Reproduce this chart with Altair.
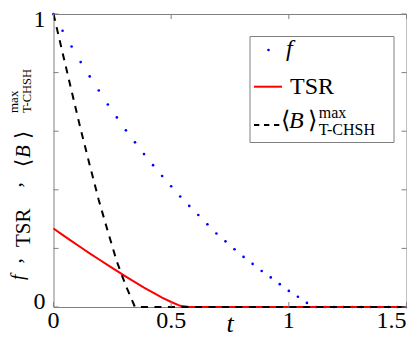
import altair as alt
import pandas as pd

# ---- data ----
t_f = [0, 0.0385, 0.0769, 0.1154, 0.1538, 0.1923, 0.2308, 0.2692, 0.3077, 0.3462,
       0.3846, 0.4231, 0.4615, 0.5, 0.5385, 0.5769, 0.6154, 0.6538, 0.6923, 0.7308,
       0.7692, 0.8077, 0.8462, 0.8846, 0.9231, 0.9615, 1.0, 1.0385, 1.0769, 1.1154,
       1.1538, 1.1923, 1.2308, 1.2692, 1.3077, 1.3462, 1.3846, 1.4231, 1.4615, 1.5]
f_vals = [1.0, 0.943, 0.889, 0.836, 0.787, 0.739, 0.691, 0.647, 0.603, 0.562,
          0.522, 0.484, 0.447, 0.412, 0.377, 0.345, 0.314, 0.282, 0.251, 0.224,
          0.197, 0.171, 0.147, 0.123, 0.101, 0.078, 0.055, 0.035, 0.014, 0,
          0, 0, 0, 0, 0, 0, 0, 0, 0, 0]

t_tsr = [0, 0.0385, 0.0769, 0.1154, 0.1538, 0.1923, 0.2308, 0.2692, 0.3077, 0.3462,
         0.3846, 0.4231, 0.4615, 0.5, 0.5385, 0.5769, 1.5]
tsr_vals = [0.268, 0.246, 0.225, 0.204, 0.183, 0.163, 0.143, 0.123, 0.104, 0.085,
            0.066, 0.049, 0.032, 0.017, 0.004, 0, 0]

t_b = [0, 0.0385, 0.0769, 0.1154, 0.1538, 0.1923, 0.2308, 0.2692, 0.3077, 0.3462, 1.5]
b_vals = [1.0, 0.868, 0.737, 0.607, 0.485, 0.365, 0.258, 0.155, 0.072, 0, 0]

x_ticks = [0, 0.5, 1, 1.5]
x_tick_labels = ["0", "0.5", "1", "1.5"]
y_ticks = [0, 0.2, 0.4, 0.6, 0.8, 1]
y_label_values = [0, 1]
y_tick_labels = ["0", "1"]

W, H = 353, 293
FONT = "Liberation Serif"
GRAY = "#808080"

xs = alt.Scale(domain=[0, 1.5], nice=False, zero=False)
ys = alt.Scale(domain=[0, 1], nice=False, zero=False)


def X(field):
    return alt.X(field, type="quantitative", scale=xs, axis=None)


def Y(field):
    return alt.Y(field, type="quantitative", scale=ys, axis=None)


df_f = pd.DataFrame({"t": t_f, "v": f_vals})
df_tsr = pd.DataFrame({"t": t_tsr, "v": tsr_vals})
df_b = pd.DataFrame({"t": t_b, "v": b_vals})

dots = alt.Chart(df_f).mark_circle(size=7, color="#0000ff", opacity=1).encode(x=X("t"), y=Y("v"))
tsr_line = alt.Chart(df_tsr).mark_line(color="#ff0000", strokeWidth=2).encode(x=X("t"), y=Y("v"))
b_line = alt.Chart(df_b).mark_line(color="black", strokeWidth=2, strokeDash=[7, 6.5]).encode(
    x=X("t"), y=Y("v"))

# inner ticks (box style)
dfx = pd.DataFrame({"v": x_ticks, "lab": x_tick_labels})
dfy = pd.DataFrame({"v": y_ticks})
dfyl = pd.DataFrame({"v": y_label_values, "lab": y_tick_labels})
tick_kw = dict(color=GRAY, strokeWidth=1)
xt_bot = alt.Chart(dfx).mark_rule(**tick_kw).encode(x=X("v"), y=alt.value(H), y2=alt.value(H - 5))
xt_top = alt.Chart(dfx).mark_rule(**tick_kw).encode(x=X("v"), y=alt.value(0), y2=alt.value(5))
yt_left = alt.Chart(dfy).mark_rule(**tick_kw).encode(y=Y("v"), x=alt.value(0), x2=alt.value(5))
yt_right = alt.Chart(dfy).mark_rule(**tick_kw).encode(y=Y("v"), x=alt.value(W - 5), x2=alt.value(W))

lab_kw = dict(font=FONT, fontSize=24, color="black")
xl_center = alt.Chart(dfx).transform_filter("datum.v < 1.5").mark_text(
    align="center", baseline="top", **lab_kw).encode(x=X("v"), y=alt.value(H + 2), text="lab:N")
xl_right = alt.Chart(dfx).transform_filter("datum.v >= 1.5").mark_text(
    align="right", baseline="top", **lab_kw).encode(x=X("v"), y=alt.value(H + 2), text="lab:N")
yl_top = alt.Chart(dfyl).transform_filter("datum.v == 1").mark_text(
    align="right", baseline="middle", dy=6, **lab_kw).encode(y=Y("v"), x=alt.value(-8), text="lab:N")
yl_bot = alt.Chart(dfyl).transform_filter("datum.v == 0").mark_text(
    align="right", baseline="middle", dy=-5, **lab_kw).encode(y=Y("v"), x=alt.value(-8), text="lab:N")

one = pd.DataFrame({"a": [0]})


def txt(s, x, y, size, style="normal", angle=0, align="left", baseline="alphabetic"):
    return alt.Chart(one).mark_text(
        text=s, font=FONT, fontSize=size, fontStyle=style, angle=angle,
        align=align, baseline=baseline, color="black",
    ).encode(x=alt.value(x), y=alt.value(y))


x_title = txt("t", W / 2, 318, 26, "italic", align="center")

# legend (box drawn as marks)
LX = -3
leg_box = alt.Chart(one).mark_rect(fill="white", stroke=GRAY, strokeWidth=1).encode(
    x=alt.value(199.5 + LX), x2=alt.value(343.5 + LX), y=alt.value(22.5), y2=alt.value(128.5))
leg_dot = alt.Chart(one).mark_circle(size=7, color="#0000ff", opacity=1).encode(
    x=alt.value(218 + LX), y=alt.value(36))
leg_red = alt.Chart(one).mark_rule(color="#ff0000", strokeWidth=2).encode(
    x=alt.value(203.5 + LX), x2=alt.value(231.5 + LX), y=alt.value(72.7))
leg_dash = alt.Chart(one).mark_rule(color="black", strokeWidth=2, strokeDash=[5.3, 4.7]).encode(
    x=alt.value(203.5 + LX), x2=alt.value(229.5 + LX), y=alt.value(111))
legend = [
    leg_box, leg_dot, leg_red, leg_dash,
    txt("f", 235.5 + LX, 42, 24, "italic"),
    txt("TSR", 239.5 + LX, 80.3, 24),
    txt("⟨", 230 + LX, 113.7, 24),
    txt("B", 238.5 + LX, 113.7, 24, "italic"),
    txt("⟩", 257.5 + LX, 113.7, 24),
    txt("max", 268.2 + LX, 104, 16),
    txt("T-CHSH", 268.2 + LX, 121, 16),
]

# rotated y title (built from pieces: super/subscripts)
ytitle = [
    txt("f", -30, 266, 19, "italic", angle=270),
    txt(",", -33, 249.5, 21, angle=270),
    txt("TSR", -23.5, 233, 21, angle=270),
    txt(",", -33, 173.5, 21, angle=270),
    txt("⟨", -23.5, 153, 21, angle=270),
    txt("B", -23.5, 144, 21, "italic", angle=270),
    txt("⟩", -23.5, 125, 21, angle=270),
    txt("max", -35.5, 99, 13, angle=270),
    txt("T-CHSH", -23, 99, 12.5, angle=270),
]

chart = alt.layer(
    dots, tsr_line, b_line, xt_bot, xt_top, yt_left, yt_right,
    xl_center, xl_right, yl_top, yl_bot, x_title, *legend, *ytitle
).properties(
    width=W, height=H,
    autosize=alt.AutoSizeParams(type="none"),
    padding={"left": 45.5, "top": 6, "right": 0.5, "bottom": 28},
).configure_view(
    stroke=GRAY, strokeWidth=1
)

chart.save("out.html", embed_options={"renderer": "svg", "actions": False})
